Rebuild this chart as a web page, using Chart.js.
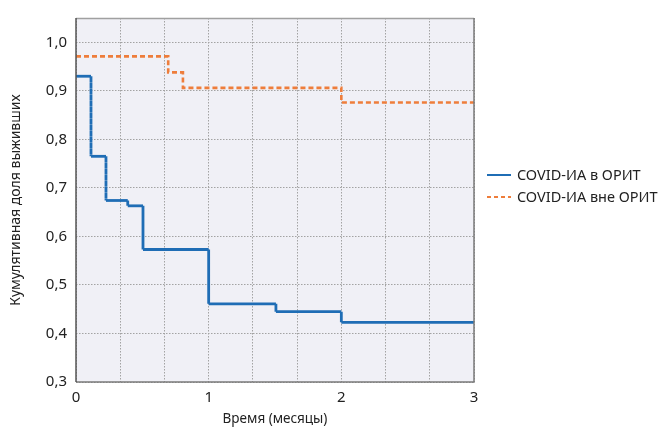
<!DOCTYPE html>
<html><head><meta charset="utf-8">
<script src="https://cdn.jsdelivr.net/npm/chart.js@4"></script>
<style>html,body{margin:0;padding:0;background:#fff}#wrap{width:665px;height:429px}</style>
</head><body><div id="wrap"><canvas id="c" width="665" height="429"></canvas></div>
<script>
const seriesNames = ['COVID-ИА в ОРИТ', 'COVID-ИА вне ОРИТ'];
const icuTimes = [0, 0.113, 0.226, 0.39, 0.505, 1.0, 1.507, 2.0, 3.0];
const icuSurv  = [0.93, 0.765, 0.674, 0.663, 0.573, 0.461, 0.445, 0.423, 0.423];
const nonIcuTimes = [0, 0.695, 0.806, 2.0, 3.0];
const nonIcuSurv  = [0.971, 0.938, 0.906, 0.876, 0.876];
const xTickLabels = ['0', '1', '2', '3'];
const yTickLabels = ['0,3', '0,4', '0,5', '0,6', '0,7', '0,8', '0,9', '1,0'];

function stepPoints(t, s) {
  const pts = [{x: t[0], y: s[0]}];
  for (let i = 1; i < t.length; i++) {
    pts.push({x: t[i], y: s[i - 1]});
    if (s[i] !== s[i - 1]) pts.push({x: t[i], y: s[i]});
  }
  return pts;
}
const BLUE = '#1f6db5', ORANGE = '#ee7d3b';
const FONT = '"Noto Sans", sans-serif';
const bgPlugin = {
  id: 'bg',
  beforeDraw(chart) {
    const {ctx, chartArea: a} = chart;
    ctx.save(); ctx.fillStyle = '#f0f0f6';
    ctx.fillRect(a.left, a.top, a.right - a.left, a.bottom - a.top);
    ctx.restore();
  },
  afterDraw(chart) {
    const {ctx, chartArea: a} = chart;
    ctx.save();
    ctx.lineWidth = 1.5;
    ctx.strokeStyle = '#a0a0a0';
    ctx.beginPath(); ctx.moveTo(a.left, a.top + 0.5); ctx.lineTo(a.right, a.top + 0.5); ctx.stroke();
    ctx.strokeStyle = '#7a7a7a';
    ctx.beginPath(); ctx.moveTo(a.right, a.top); ctx.lineTo(a.right, a.bottom); ctx.lineTo(a.left, a.bottom); ctx.stroke();
    ctx.strokeStyle = '#555';
    ctx.beginPath(); ctx.moveTo(a.left, a.top); ctx.lineTo(a.left, a.bottom); ctx.stroke();
    // legend
    const lx = 487, ys = [175, 197];
    ctx.font = '14.5px ' + FONT;
    ctx.textBaseline = 'middle';
    ctx.fillStyle = '#222';
    [[BLUE, []], [ORANGE, [4, 3]]].forEach((st, i) => {
      ctx.strokeStyle = st[0]; ctx.lineWidth = 2; ctx.setLineDash(st[1]);
      ctx.beginPath(); ctx.moveTo(lx, ys[i]); ctx.lineTo(lx + 24, ys[i]); ctx.stroke();
      ctx.setLineDash([]);
      ctx.fillText(seriesNames[i], lx + 30, ys[i] + 1);
    });
    ctx.restore();
  }
};
const vDash = (dash) => (c) => (c.p0.parsed.x === c.p1.parsed.x ? dash : undefined);
new Chart(document.getElementById('c'), {
  type: 'line',
  data: {
    datasets: [
      {label: seriesNames[0], data: stepPoints(icuTimes, icuSurv), borderColor: BLUE, borderWidth: 2.8,
       pointRadius: 0, fill: false, tension: 0, segment: {borderDash: vDash([4, 2])}},
      {label: seriesNames[1], data: stepPoints(nonIcuTimes, nonIcuSurv), borderColor: ORANGE, borderWidth: 2.6,
       pointRadius: 0, fill: false, tension: 0, borderDash: [5, 3]}
    ]
  },
  options: {
    responsive: false, animation: false,
    layout: {padding: {left: 0, top: 14, right: 191, bottom: 0}},
    plugins: {legend: {display: false}, tooltip: {enabled: false}},
    scales: {
      x: {
        type: 'linear', min: 0, max: 3,
        afterFit: s => { s.height = 47; },
        afterBuildTicks: s => { const t = []; for (let i = 0; i <= 9; i++) t.push({value: i / 3}); s.ticks = t; },
        grid: {color: '#a3a3a3', drawTicks: false, lineWidth: 1},
        border: {display: false, dash: [1.5, 1.5]},
        ticks: {padding: 7, color: '#222', font: {family: FONT, size: 15},
          callback: (v) => { const r = Math.round(v); return Math.abs(v - r) < 1e-6 ? xTickLabels[r] : ''; }},
        title: {display: true, text: 'Время (месяцы)', color: '#222', font: {family: FONT, size: 13.5}, padding: {top: 0, bottom: 2}}
      },
      y: {
        type: 'linear', min: 0.3, max: 1.05,
        afterFit: s => { s.width = 76; },
        afterBuildTicks: s => { s.ticks = yTickLabels.map((l, i) => ({value: 0.3 + i * 0.1})); },
        grid: {color: '#a3a3a3', drawTicks: false, lineWidth: 1},
        border: {display: false, dash: [1.5, 1.5]},
        ticks: {padding: 9, color: '#222', font: {family: FONT, size: 15},
          callback: (v, i) => yTickLabels[i]},
        title: {display: true, text: 'Кумулятивная доля выживших', color: '#222', font: {family: FONT, size: 14}, padding: {top: 8, bottom: 0}}
      }
    }
  },
  plugins: [bgPlugin]
});
</script></body></html>
